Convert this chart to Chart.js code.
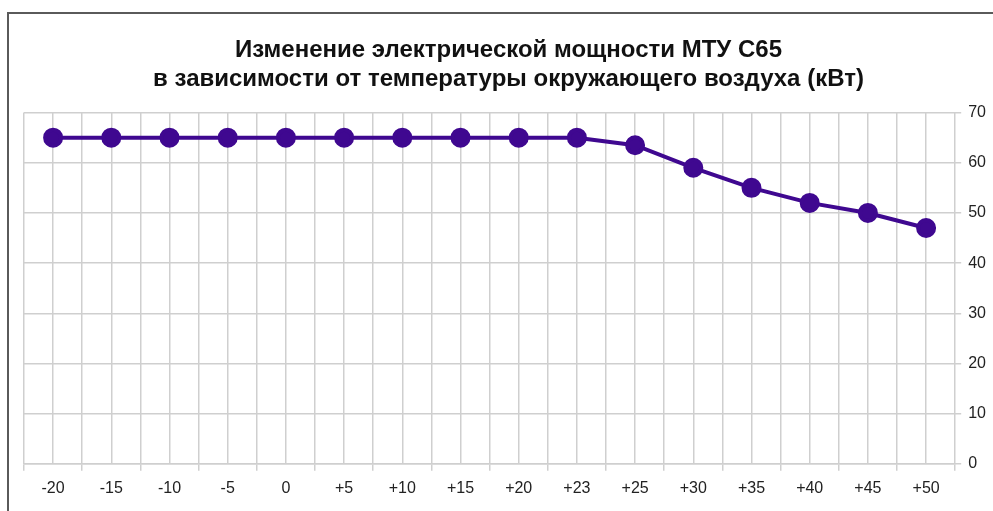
<!DOCTYPE html>
<html>
<head>
<meta charset="utf-8">
<script src="https://cdn.jsdelivr.net/npm/chart.js@4/dist/chart.umd.min.js"></script>
<style>
    html, body { margin: 0; padding: 0; background: #fff; }
    #wrap { position: absolute; left: 0; top: 0; width: 993px; height: 511px; }
    #frame { position: absolute; left: 7px; top: 12px; width: 990px; height: 510px;
             border-top: 2px solid #5a5a5a; border-left: 2px solid #5a5a5a; }
</style>
</head>
<body>
<div id="wrap">
    <div id="frame"></div>
    <canvas id="myChart" width="993" height="511"></canvas>
</div>
<script>
const temps = ['-20', '-15', '-10', '-5', '0', '+5', '+10', '+15', '+20', '+23', '+25', '+30', '+35', '+40', '+45', '+50']
const power = [65, 65, 65, 65, 65, 65, 65, 65, 65, 65, 63.5, 59, 55, 52, 50, 47]
const titleLines = ['Изменение электрической мощности МТУ С65', 'в зависимости от температуры окружающего воздуха (кВт)']

window.onload = () => {
    const purple = '#3f0890'
    const gridColor = '#cfcfcf'
    const tickFont = { family: 'Liberation Sans', size: 16 }

    const config = {
        type: 'line',
        data: {
            labels: temps,
            datasets: [{
                label: 'Мощность',
                data: power,
                borderColor: purple,
                backgroundColor: purple,
                borderWidth: 4,
                pointRadius: 8,
                pointHoverRadius: 8,
                fill: false,
                tension: 0
            }]
        },
        options: {
            responsive: false,
            animation: false,
            layout: { padding: { left: 24, right: 0, top: 36, bottom: 5 } },
            scales: {
                x: {
                    offset: true,
                    grid: { offset: true, color: gridColor, lineWidth: 1.5, tickLength: 7 },
                    border: { color: gridColor, width: 1.5 },
                    ticks: { color: '#222', font: tickFont, padding: 8 }
                },
                // second axis only draws grid lines through the points
                x2: {
                    type: 'category',
                    position: 'bottom',
                    offset: true,
                    grid: { offset: false, color: gridColor, lineWidth: 1.5, drawTicks: false },
                    border: { display: false },
                    ticks: { display: false }
                },
                y: {
                    position: 'right',
                    min: 0,
                    max: 70,
                    ticks: { stepSize: 10, color: '#222', font: tickFont, padding: 7 },
                    grid: { color: gridColor, lineWidth: 1.5, tickLength: 6 },
                    border: { display: false }
                }
            },
            plugins: {
                legend: { display: false },
                tooltip: { enabled: false },
                title: {
                    display: true,
                    text: titleLines,
                    color: '#111',
                    font: { family: 'Liberation Sans', size: 24, weight: 'bold', lineHeight: 1.2 },
                    padding: { top: 0, bottom: 19 }
                }
            }
        }
    }
    const ctx = document.getElementById('myChart')
    new Chart(ctx, config)
}
</script>
</body>
</html>
